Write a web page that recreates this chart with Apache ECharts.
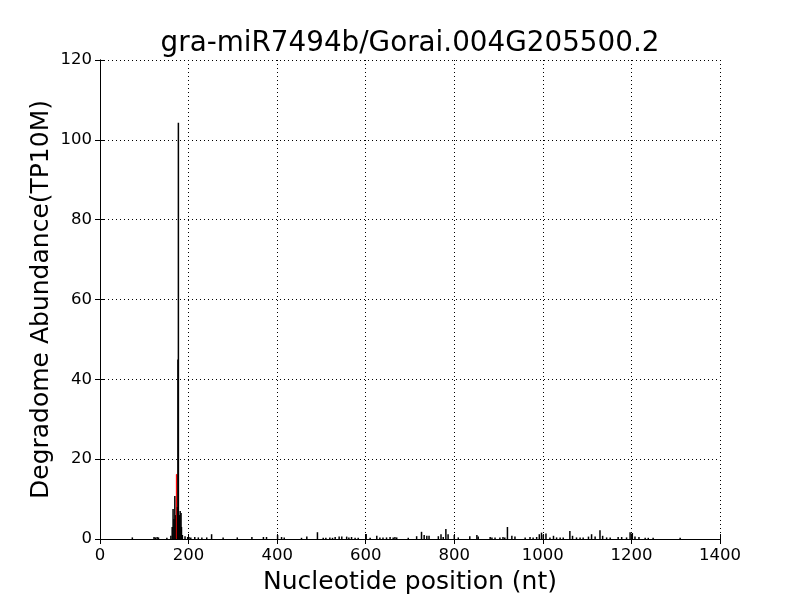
<!DOCTYPE html>
<html>
<head>
<meta charset="utf-8">
<script src="https://cdn.jsdelivr.net/npm/echarts@6/dist/echarts.min.js"></script>
<style>html,body{margin:0;padding:0;background:#fff}#c{width:800px;height:600px}</style>
</head>
<body>
<div id="c"></div>
<script>
var title = "gra-miR7494b/Gorai.004G205500.2";
var xTicks = [0, 200, 400, 600, 800, 1000, 1200, 1400];
var yTicks = [0, 20, 40, 60, 80, 100, 120];
var blackPos = [73,122,125,129,132,151,160,163,165,167,169,171,175,176,177,179,181,183,184,186,192,198,201,205,214,222,230,241,252,278,310,343,369,376,401,410,416,455,467,491,504,510,519,525,531,540,546,557,562,568,576,583,601,610,625,632,639,647,655,662,666,670,696,715,726,732,738,743,764,770,775,781,786,800,809,835,851,854,881,885,892,903,910,914,920,930,937,960,971,978,986,992,997,1001,1007,1016,1024,1031,1039,1046,1061,1067,1076,1084,1091,1103,1110,1118,1129,1135,1144,1152,1170,1178,1189,1197,1202,1208,1217,1231,1238,1249,1310];
var blackVal = [0.4,0.5,0.4,0.5,0.4,0.3,0.8,3,7.5,5,10.8,6,8,45,104.3,6,7,6.5,3,1,0.7,0.5,0.5,0.4,0.5,0.4,0.4,0.4,1.2,0.4,0.4,0.5,0.5,0.5,1,0.5,0.4,0.3,0.6,1.7,0.3,0.3,0.4,0.3,0.5,0.6,0.6,0.6,0.4,0.5,0.3,0.3,1.25,0.3,0.8,0.4,0.4,0.4,0.5,0.4,0.5,0.4,0.3,0.7,1.8,1,0.8,0.8,0.7,1.2,0.5,2.5,1.2,1,0.4,0.7,1,0.6,0.5,0.4,0.4,0.4,0.5,0.4,3,0.8,0.6,0.4,0.5,0.4,0.5,1.2,1.6,1,1.4,0.4,0.8,0.4,0.4,0.4,2,0.8,0.4,0.4,0.4,0.6,1.2,0.6,2.2,0.8,0.4,0.4,0.5,0.5,0.4,1.7,1.5,0.6,0.5,0.3,0.3,0.3,0.3];
var redPos = [173];
var redVal = [16.3];

var data = [];
for (var i = 0; i < blackPos.length; i++) data.push({value: [blackPos[i], blackVal[i]], itemStyle: {color: '#000'}});
for (var j = 0; j < redPos.length; j++) data.push({value: [redPos[j], redVal[j]], itemStyle: {color: '#ff0000', borderColor: '#ff0000', borderWidth: 1}});
data.sort(function(a, b){ return a.value[0] - b.value[0]; });

var font = 'DejaVu Sans';
var chart = echarts.init(document.getElementById('c'), null, {renderer: 'canvas'});
var grid = {left: 100, right: 80, top: 60, bottom: 60};
var tickStyle = {show: true, inside: true, length: 5, lineStyle: {color: '#000', width: 1}};
var plain = function (v) { return String(v); };
chart.setOption({
  animation: false,
  backgroundColor: '#fff',
  title: {text: title, left: 405, textAlign: 'center', top: 25,
    textStyle: {fontFamily: font, fontSize: 27.8, fontWeight: 'normal', color: '#000'}},
  grid: grid,
  xAxis: [{
    type: 'value', min: xTicks[0], max: xTicks[xTicks.length-1], interval: 200,
    name: 'Nucleotide position (nt)', nameLocation: 'middle', nameGap: 31, nameMoveOverlap: false,
    nameTextStyle: {fontFamily: font, fontSize: 25, color: '#000'},
    axisLine: {show: true, lineStyle: {color: '#000', width: 1}},
    axisTick: tickStyle,
    axisLabel: {fontFamily: font, fontSize: 16.5, color: '#000', margin: 8, formatter: plain},
    splitLine: {show: true, lineStyle: {color: '#000', width: 1, type: [1, 3]}}
  }, {
    type: 'value', position: 'top', min: xTicks[0], max: xTicks[xTicks.length-1], interval: 200,
    axisLine: {show: true, lineStyle: {color: '#000', width: 1}},
    axisTick: tickStyle, axisLabel: {show: false}, splitLine: {show: false}
  }],
  yAxis: [{
    type: 'value', min: yTicks[0], max: yTicks[yTicks.length-1], interval: 20,
    name: 'Degradome Abundance(TP10M)', nameLocation: 'middle', nameGap: 46, nameMoveOverlap: false,
    nameTextStyle: {fontFamily: font, fontSize: 25, color: '#000'},
    axisLine: {show: true, lineStyle: {color: '#000', width: 1}},
    axisTick: tickStyle,
    axisLabel: {fontFamily: font, fontSize: 16.5, color: '#000', margin: 8, formatter: plain},
    splitLine: {show: true, lineStyle: {color: '#000', width: 1, type: [1, 3]}}
  }, {
    type: 'value', position: 'right', min: yTicks[0], max: yTicks[yTicks.length-1], interval: 20,
    axisLine: {show: true, lineStyle: {color: '#000', width: 1}},
    axisTick: tickStyle, axisLabel: {show: false}, splitLine: {show: false}
  }],
  series: [{
    type: 'bar', xAxisIndex: 0, yAxisIndex: 0,
    barWidth: 1.5,
    data: data
  }]
});
</script>
</body>
</html>
